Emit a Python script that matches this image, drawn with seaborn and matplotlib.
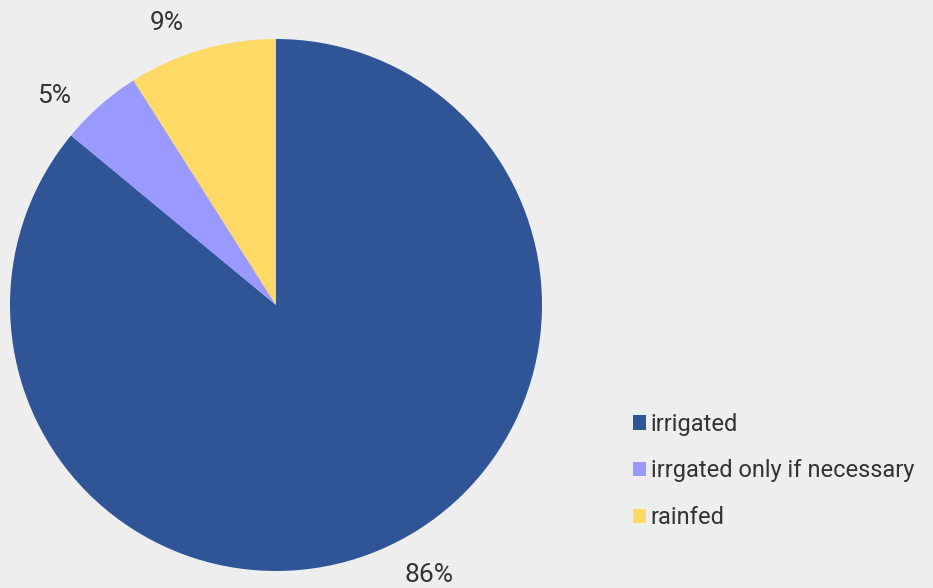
import matplotlib
matplotlib.use('Agg')
import matplotlib.pyplot as plt
import seaborn as sns
import numpy as np

# ── DATA ──────────────────────────────────────────────────────────────────────
categories = ["irrigated", "irrgated only if necessary", "rainfed"]
shares     = [86, 5, 9]
colors     = ["#2F5597", "#9999FF", "#FFD966"]
# ─────────────────────────────────────────────────────────────────────────────

BG = "#EEEEEE"
TXT = "#333333"

sns.set_theme(style="white")
plt.rcParams['font.family'] = ['Roboto', 'DejaVu Sans']

fig = plt.figure(figsize=(9.33, 5.88), dpi=100, facecolor=BG)
# pie centre ~(276, 305) px, radius ~266 px
cx, cy, r = 276, 305, 266
ax = fig.add_axes([(cx - r) / 933, (588 - cy - r) / 588, 2 * r / 933, 2 * r / 588])
ax.set_facecolor(BG)

wedges, texts, autotexts = ax.pie(
    shares, colors=colors, startangle=90, counterclock=False,
    autopct=lambda p: f"{p:.0f}%", pctdistance=1.16,
    textprops=dict(color=TXT, fontsize=19),
    wedgeprops=dict(linewidth=0),
)
# labels sit slightly counter-clockwise of the wedge middle, like the original
for w, t in zip(wedges, autotexts):
    ang = np.deg2rad((w.theta1 + w.theta2) / 2 + 4.5)
    t.set_position((1.16 * np.cos(ang), 1.15 * np.sin(ang) - 0.015))
    t.set_clip_on(False)
ax.set_xlim(-1, 1)
ax.set_ylim(-1, 1)
ax.axis('off')

fig.legend(wedges, categories, loc='upper left', bbox_to_anchor=(621 / 933, 1 - 401 / 588),
           frameon=False, labelcolor=TXT, prop=dict(size=17),
           handlelength=0.55, handleheight=0.55, handletextpad=0.2, labelspacing=1.0,
           borderpad=0)

fig.savefig("out.png", dpi=100, facecolor=BG)
